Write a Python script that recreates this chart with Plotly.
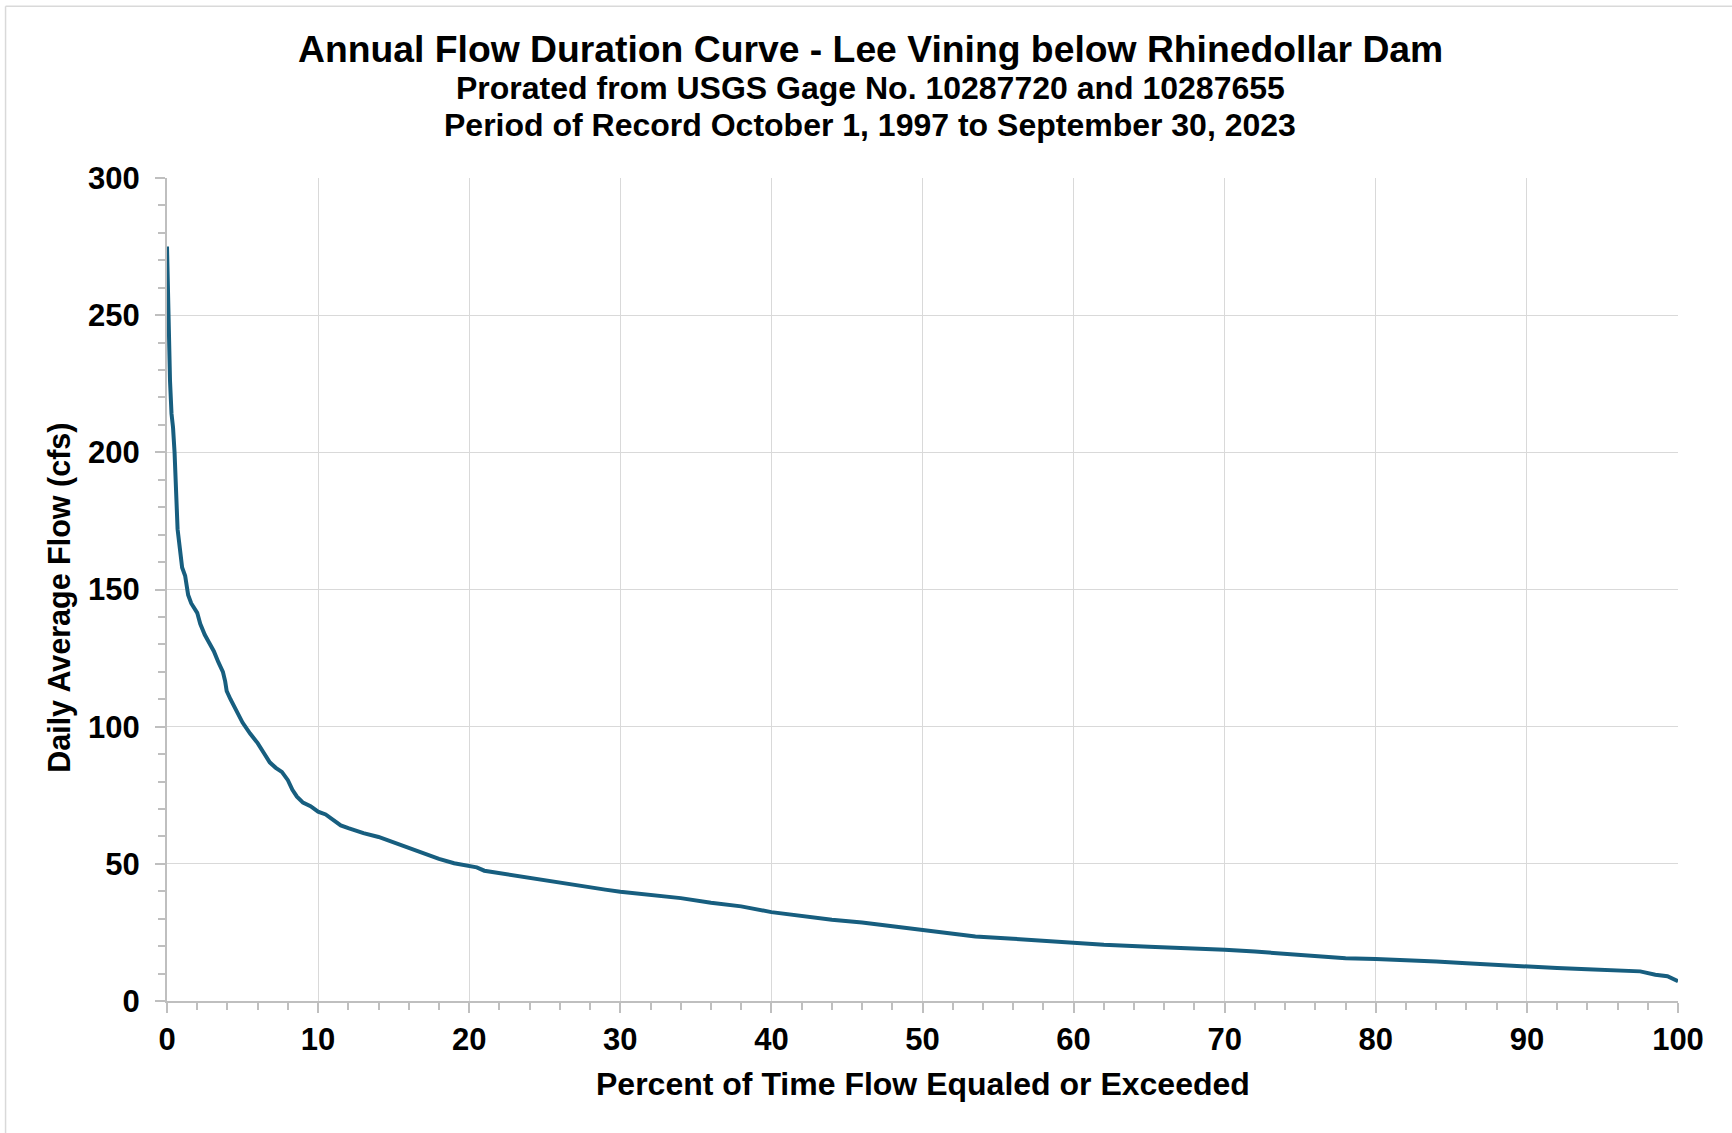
import plotly.graph_objects as go

# Percent of time flow equaled or exceeded
pct = [0, 0.05, 0.1, 0.15, 0.2, 0.3, 0.4, 0.5, 0.6, 0.7, 0.85, 1.0, 1.2, 1.4, 1.6, 1.8,
       2.0, 2.2, 2.5, 2.8, 3.1, 3.4, 3.7, 3.85, 3.95, 4.2, 4.5, 5.0, 5.5, 6.0, 6.4, 6.8,
       7.2, 7.6, 8.0, 8.3, 8.6, 9.0, 9.5, 10.0, 10.5, 11.0, 11.5, 12.0, 13.0, 14.0, 15.0,
       16.0, 17.0, 18.0, 19.0, 20.0, 20.5, 21.0, 22.0, 23.0, 24.0, 25.0, 26.0, 27.0, 28.0,
       29.0, 30.0, 32, 34, 36, 38, 40, 42, 44, 46, 48, 50, 52, 53.5, 56, 58, 60, 62, 65,
       68, 70, 72, 74, 76, 78, 80, 82, 84, 86, 88, 90, 92, 94, 96, 97.5, 98.5, 99.3, 100]
# Daily average flow (cfs)
flow = [275, 262, 248, 236, 226, 214, 209, 200, 183, 172, 165, 158, 155, 148, 145, 143.5,
        141.5, 137.5, 133.5, 130.5, 127.5, 123.5, 120, 116.5, 113, 110, 107, 101.5, 97.5, 94, 90.5, 87,
        85, 83.5, 80.5, 77, 74.5, 72.3, 71, 69, 68, 66, 64, 63, 61.2, 59.8, 57.8,
        56, 53.8, 51.8, 50.2, 49.2, 48.7, 47.5, 46.6, 45.8, 45.0, 44.2, 43.2, 42.3, 41.2,
        40.6, 39.8, 38.5, 37.5, 35.8, 34.5, 32.4, 31.0, 29.6, 28.6, 27.2, 26.0, 24.6, 23.5, 22.7, 21.9, 21.2, 20.5, 19.8,
        19.2, 18.7, 18.0, 17.2, 16.2, 15.6, 15.3, 15.0, 14.4, 13.8, 13.1, 12.5, 12.0, 11.6, 11.2, 10.8, 9.6, 9.0, 7.2]

title_lines = ["Annual Flow Duration Curve - Lee Vining below Rhinedollar Dam",
               "Prorated from USGS Gage No. 10287720 and 10287655",
               "Period of Record October 1, 1997 to September 30, 2023"]
x_title = "Percent of Time Flow Equaled or Exceeded"
y_title = "Daily Average Flow (cfs)"

FONT = "Liberation Sans, Arial, sans-serif"
W, H = 1732, 1133
L, R, T, B = 166.5, 54, 177.7, 132.3
PW, PH = W - L - R, H - T - B

def px_x(p):
    return (p - L) / PW

def px_y(p):
    return (H - B - p) / PH

fig = go.Figure()
fig.add_trace(go.Scatter(x=pct, y=flow, mode="lines",
                         line=dict(color="#175E7F", width=4), showlegend=False))

axis_common = dict(
    showgrid=True, gridcolor="#D9D9D9", gridwidth=1.3,
    showline=True, linecolor="#BFBFBF", linewidth=2,
    ticks="outside", ticklen=10, tickwidth=2, tickcolor="#BFBFBF",
    tickfont=dict(family=FONT, size=31, color="black", weight="bold"),
    zeroline=False,
)
fig.update_xaxes(range=[0, 100], dtick=10, tick0=0, ticklabelstandoff=0,
                 minor=dict(dtick=2, ticklen=7, tickwidth=2, tickcolor="#BFBFBF", ticks="outside", showgrid=False),
                 **axis_common)
fig.update_yaxes(range=[0, 300], dtick=50, tick0=0, ticklabelstandoff=9,
                 minor=dict(dtick=10, ticklen=7, tickwidth=2, tickcolor="#BFBFBF", ticks="outside", showgrid=False),
                 **axis_common)

ann = []
title_sizes = [37.3, 32, 32]
title_y = [48.4, 87.5, 125.2]
for txt, sz, yy in zip(title_lines, title_sizes, title_y):
    ann.append(dict(text=txt, xref="paper", yref="paper", x=px_x(870), y=px_y(yy),
                    xanchor="center", yanchor="middle", showarrow=False,
                    font=dict(family=FONT, size=sz, color="black", weight="bold")))
ann.append(dict(text=x_title, xref="paper", yref="paper", x=0.5, y=px_y(1083.5),
                xanchor="center", yanchor="middle", showarrow=False,
                font=dict(family=FONT, size=32, color="black", weight="bold")))
ann.append(dict(text=y_title, xref="paper", yref="paper", x=px_x(59), y=px_y(598),
                xanchor="center", yanchor="middle", showarrow=False, textangle=-90,
                font=dict(family=FONT, size=30.5, color="black", weight="bold")))

shapes = [
    dict(type="line", xref="paper", yref="paper", x0=px_x(5), x1=px_x(W + 5), y0=px_y(6), y1=px_y(6),
         line=dict(color="#D9D9D9", width=1.5)),
    dict(type="line", xref="paper", yref="paper", x0=px_x(5), x1=px_x(5), y0=px_y(6), y1=px_y(H + 5),
         line=dict(color="#D9D9D9", width=1.5)),
]

fig.update_layout(width=W, height=H, margin=dict(l=L, r=R, t=T, b=B, autoexpand=False),
                  paper_bgcolor="white", plot_bgcolor="white",
                  annotations=ann, shapes=shapes, showlegend=False)

fig.write_html("out.html")
